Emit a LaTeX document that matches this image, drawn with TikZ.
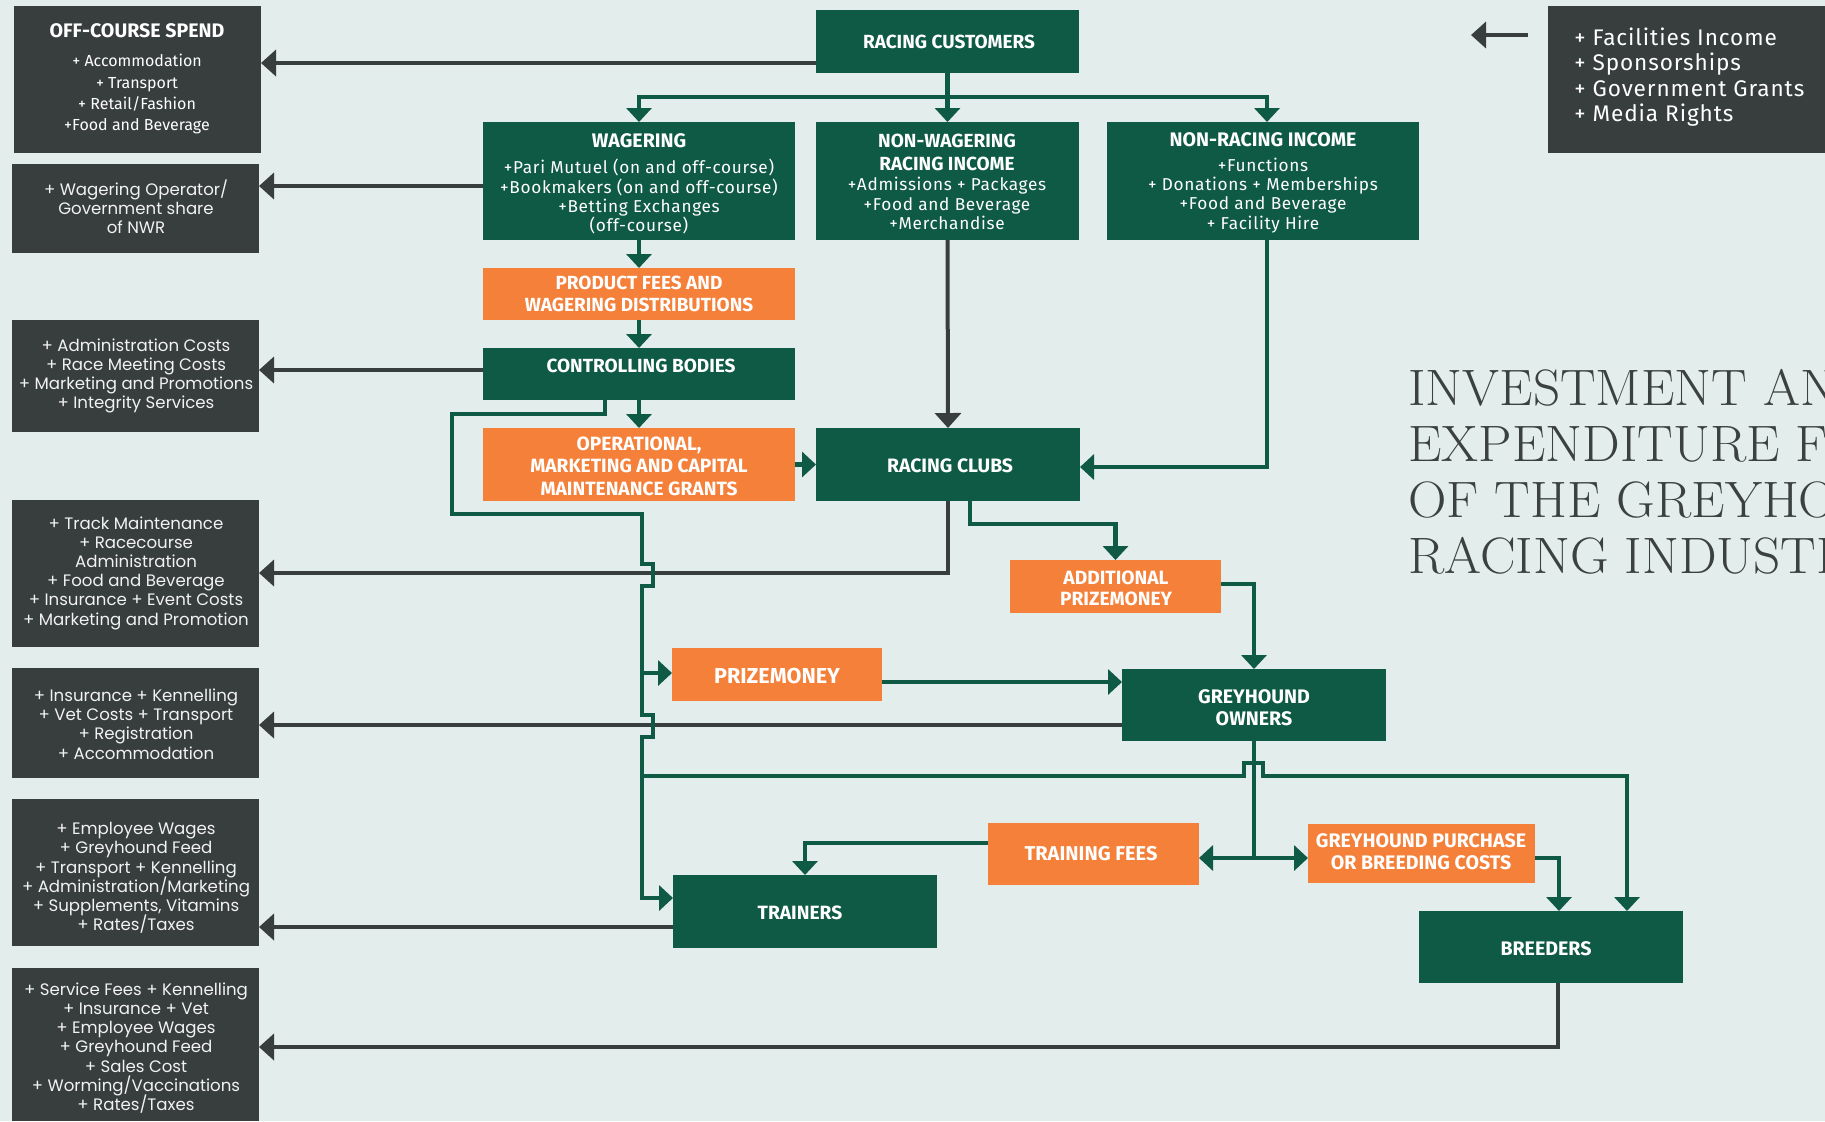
\documentclass[tikz,border=0pt]{standalone}
\usepackage{fontspec}
\usepackage{graphicx}
\newfontfamily\fira{Fira Sans}
\newfontfamily\firaw{Fira Sans}[LetterSpace=4]
\newfontfamily\pop{Poppins}
\newcommand\fixlead{\lineskiplimit=-100pt\relax}
\usetikzlibrary{arrows.meta,fit}
\definecolor{bgc}{HTML}{E3EDEB}
\definecolor{dkc}{HTML}{383D3D}
\definecolor{grc}{HTML}{0F5A44}
\definecolor{orc}{HTML}{F48039}
\definecolor{ttc}{HTML}{3B4141}
\definecolor{ltc}{HTML}{F2F2F2}
\begin{document}
\begin{tikzpicture}[x=0.5pt,y=-0.5pt,
  box/.style={inner sep=0pt,outer sep=0pt,draw=none},
  gbox/.style={box,fill=grc},
  obox/.style={box,fill=orc},
  dbox/.style={box,fill=dkc},
  wt/.style={inner sep=0pt,text=white,align=center},
  hdf/.style={wt,font=\fira\bfseries\fontsize{9.5}{11}\selectfont},
  bdf/.style={wt,font=\firaw\fontsize{8.6}{9.7}\selectfont},
  ppf/.style={inner sep=0pt,text=ltc,align=center,font={\pop\fontsize{8.3}{9.6}\selectfont\fixlead}},
  garr/.style={draw=grc,line width=2.1pt,-{Triangle[length=7pt,width=12.5pt]}},
  gln/.style={draw=grc,line width=2.1pt},
  darr/.style={draw=dkc,line width=2pt,-{Triangle[length=7.5pt,width=13pt]}},
  ttl/.style={inner sep=0pt,text=ttc,anchor=base west,font=\fontsize{25.6}{28}\selectfont},
]
\fill[bgc] (0,0) rectangle (1825,1121);
\useasboundingbox (0,0) rectangle (1825,1121);

% ---------- left dark boxes
\node[dbox,fit={(14,6) (261,153)}] (ocs) {};
\node[dbox,fit={(12,164) (259,253)}] (wop) {};
\node[dbox,fit={(12,320) (259,432)}] (adm) {};
\node[dbox,fit={(12,500) (259,647)}] (trk) {};
\node[dbox,fit={(12,668) (259,778)}] (ins) {};
\node[dbox,fit={(12,799) (259,946)}] (emp) {};
\node[dbox,fit={(12,968) (259,1121)}] (svc) {};
\node[dbox,fit={(1548,6) (1825,153)}] (tri) {};

% ---------- green boxes
\node[gbox,fit={(816,10) (1079,73)}] (rc) {};
\node[gbox,fit={(483,122) (795,240)}] (wag) {};
\node[gbox,fit={(816,122) (1079,240)}] (nwr) {};
\node[gbox,fit={(1107,122) (1419,240)}] (nri) {};
\node[gbox,fit={(483,348) (795,400)}] (cb) {};
\node[gbox,fit={(816,428) (1080,501)}] (rcl) {};
\node[gbox,fit={(1122,669) (1386,741)}] (go) {};
\node[gbox,fit={(673,875) (937,948)}] (tr) {};
\node[gbox,fit={(1419,911) (1683,983)}] (br) {};

% ---------- orange boxes
\node[obox,fit={(483,268) (795,320)}] (pf) {};
\node[obox,fit={(483,428) (795,501)}] (op) {};
\node[obox,fit={(1010,560) (1221,613)}] (ap) {};
\node[obox,fit={(672,648) (882,701)}] (pm) {};
\node[obox,fit={(988,823) (1199,885)}] (tf) {};
\node[obox,fit={(1308,824) (1535,883)}] (gp) {};

% ---------- dark connectors
\draw[darr] (rc.west |- 0,63) -- (ocs.east |- 0,63);
\draw[darr] (wag.west |- 0,186) -- (wop.east |- 0,186);
\draw[darr] (cb.west |- 0,370) -- (adm.east |- 0,370);
\draw[darr] (nwr.south) -- (rcl.north);
\draw[darr] (rcl.south) -- (rcl.south |- 0,573) -- (trk.east |- 0,573);
\draw[darr] (go.west |- 0,725) -- (ins.east |- 0,725);
\draw[darr] (tr.west |- 0,927) -- (emp.east |- 0,927);
\draw[darr] (br.south -| 1558,0) -- (1558,1047) -- (svc.east |- 0,1047);
\coordinate (fa1) at (1528,35);
\coordinate (fa2) at (1471,35);
\draw[darr] (fa1) -- (fa2);

% ---------- green connectors
\coordinate (split1) at (rc.south |- 0,97);
\draw[garr] (rc.south) -- (nwr.north);
\draw[garr] (split1) -| (wag.north);
\draw[garr] (split1) -| (nri.north -| 1267,0);
\draw[garr] (wag.south) -- (pf.north);
\draw[garr] (pf.south) -- (cb.north);
\draw[garr] (cb.south) -- (op.north);
\draw[garr] (op.east) -- (rcl.west);
\draw[garr] (nri.south -| 1267,0) |- (rcl.east |- 0,467);
\draw[garr] (rcl.south -| 970,0) |- (ap.north |- 0,524) -- (ap.north);
\draw[garr] (ap.east |- 0,584) -| (go.north);
\draw[garr] (pm.east |- 0,682) -- (go.west |- 0,682);
\coordinate (split2) at (go.south |- 0,858);
\draw[gln] (go.south) -- (split2);
\draw[garr] (split2) -- (tf.east |- split2);
\draw[garr] (split2) -- (gp.west |- split2);
\draw[garr] (tf.west |- 0,843) -| (tr.north);
\draw[garr] (gp.east |- 0,858) -| (br.north -| 1559,0);
\draw[garr] (cb.south -| 605,0) -- (605,414) -- (452,414) -- (452,514) -- (642,514)
  -- (642,564) -- (653,564) -- (653,586) -- (642,586)
  -- (642,715) -- (653,715) -- (653,737) -- (642,737)
  -- (642,898) -- (tr.west |- 0,898);
\draw[garr] (642,673) -- (pm.west |- 0,673);
\draw[garr] (642,776) -- (1244,776) -- (1244,763) -- (1263,763) -- (1263,776)
  -- (1627,776) -- (br.north -| 1627,0);

% ---------- texts in dark boxes
\node[wt,font=\fira\fontsize{8}{10.7}\selectfont] (ocs-t) at (137,79)
  {{\bfseries\fontsize{9.8}{10.7}\selectfont OFF-COURSE SPEND}\\[3.8pt]
   + Accommodation\\ + Transport\\ + Retail/Fashion\\ +Food and Beverage};
\node[ppf] (wop-t) at (136,207) {+ Wagering Operator/\\ Government share\\ of NWR};
\node[ppf] (adm-t) at (136,376) {+ Administration Costs\\ + Race Meeting Costs\\ + Marketing and Promotions\\ + Integrity Services};
\node[ppf] (trk-t) at (136,573) {+ Track Maintenance\\ + Racecourse\\ Administration\\ + Food and Beverage\\ + Insurance + Event Costs\\ + Marketing and Promotion};
\node[ppf] (ins-t) at (136,724) {+ Insurance + Kennelling\\ + Vet Costs + Transport\\ + Registration\\ + Accommodation};
\node[ppf] (emp-t) at (136,878) {+ Employee Wages\\ + Greyhound Feed\\ + Transport + Kennelling\\ + Administration/Marketing\\ + Supplements, Vitamins\\ + Rates/Taxes};
\node[ppf] (svc-t) at (136,1048) {+ Service Fees + Kennelling\\ + Insurance + Vet\\ + Employee Wages\\ + Greyhound Feed\\ + Sales Cost\\ + Worming/Vaccinations\\ + Rates/Taxes};
\node[inner sep=0pt,text=white,align=left,anchor=west,font=\firaw\fontsize{11.3}{12.7}\selectfont] (tri-t) at (1574,77)
  {+ Facilities Income\\ + Sponsorships\\ + Government Grants\\ + Media Rights};

% ---------- texts in green and orange boxes
\node[hdf] (rc-t) at (949,42) {RACING CUSTOMERS};
\node[bdf] (wag-t) at (639,184) {{\fira\bfseries\fontsize{9.8}{9.7}\selectfont WAGERING}\\[3.3pt]
  +Pari Mutuel (on and off-course)\\ +Bookmakers (on and off-course)\\ +Betting Exchanges\\ (off-course)};
\node[bdf] (nwr-t) at (947,182) {{\fira\bfseries\fontsize{9.5}{9.7}\selectfont NON-WAGERING}\\[1.8pt]
  {\fira\bfseries\fontsize{9.5}{9.7}\selectfont RACING INCOME}\\[0.3pt]
  +Admissions + Packages\\ +Food and Beverage\\ +Merchandise};
\node[bdf] (nri-t) at (1263,183) {{\fira\bfseries\fontsize{9.8}{9.7}\selectfont NON-RACING INCOME}\\[2.4pt]
  +Functions\\ + Donations + Memberships\\ +Food and Beverage\\ + Facility Hire};
\node[hdf] (pf-t) at (639,294) {PRODUCT FEES AND\\ WAGERING DISTRIBUTIONS};
\node[hdf] (cb-t) at (641,366) {CONTROLLING BODIES};
\node[hdf,font=\fira\bfseries\fontsize{9.6}{11.2}\selectfont] (op-t) at (639,466) {OPERATIONAL,\\ MARKETING AND CAPITAL\\ MAINTENANCE GRANTS};
\node[hdf,font=\fira\bfseries\fontsize{9.7}{11}\selectfont] (rcl-t) at (950,466) {RACING CLUBS};
\node[hdf,font=\fira\bfseries\fontsize{9.6}{10.5}\selectfont] (ap-t) at (1116,588) {ADDITIONAL\\ PRIZEMONEY};
\node[hdf,font=\fira\bfseries\fontsize{10.8}{11}\selectfont] (pm-t) at (777,676) {PRIZEMONEY};
\node[hdf,font=\fira\bfseries\fontsize{9.8}{11}\selectfont] (go-t) at (1254,708) {GREYHOUND\\ OWNERS};
\node[hdf,font=\fira\bfseries\fontsize{10}{11}\selectfont] (tf-t) at (1091,854) {TRAINING FEES};
\node[hdf,font=\fira\bfseries\fontsize{9.6}{11}\selectfont] (tr-t) at (800,913) {TRAINERS};
\node[hdf,font=\fira\bfseries\fontsize{9.8}{11}\selectfont] (gp-t) at (1421,852) {GREYHOUND PURCHASE\\ OR BREEDING COSTS};
\node[hdf,font=\fira\bfseries\fontsize{9.8}{11}\selectfont] (br-t) at (1546,949) {BREEDERS};

% ---------- title (cut by the right edge, as in the reference)
\begin{scope}
\clip (0,0) rectangle (1825,1121);
\node[ttl] (t1) at (1408,405) {\scalebox{1.04}[1]{INVESTMENT AND}};
\node[ttl] (t2) at (1408,461) {\scalebox{1.04}[1]{EXPENDITURE FLOWS}};
\node[ttl] (t3) at (1408,517) {\scalebox{1.04}[1]{OF THE GREYHOUND}};
\node[ttl] (t4) at (1408,573) {\scalebox{1.04}[1]{RACING INDUSTRY}};
\end{scope}
\end{tikzpicture}
\end{document}
